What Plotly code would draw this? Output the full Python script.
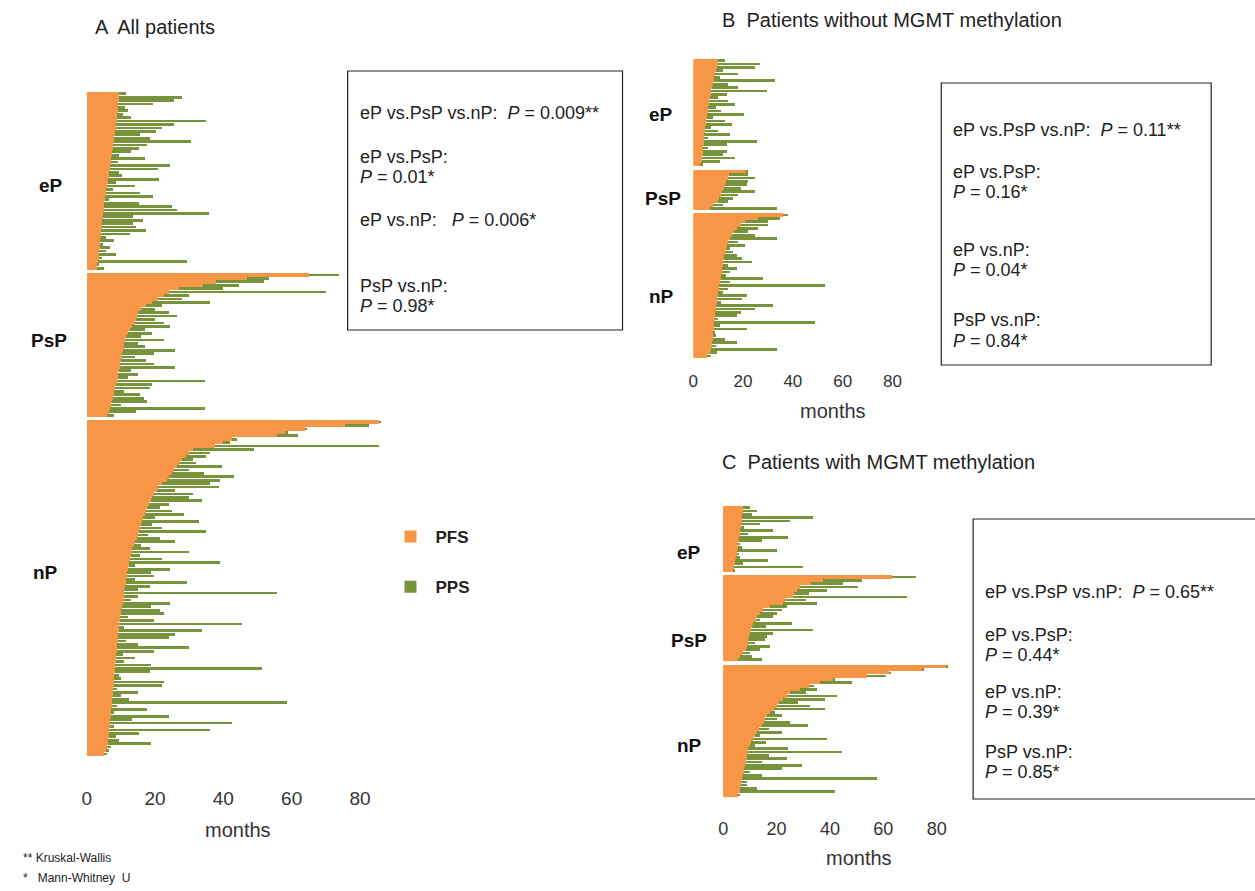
import plotly.graph_objects as go

W, H = 1255, 891
ORANGE = '#F79646'
GREEN = '#77933C'
FONT = 'Liberation Sans, Arial, sans-serif'

group_names = ['eP', 'PsP', 'nP']
x_ticks = [0, 20, 40, 60, 80]

# ---------- Panel A: all patients (months) ----------
a_ep_pfs = [9.6, 9.5, 9.4, 9.3, 9.3, 9.1, 9.0, 8.9, 8.8, 8.6, 8.5, 8.4, 8.2, 8.1, 8.0, 7.8, 7.7, 7.5, 7.4, 7.2,
            7.1, 6.9, 6.8, 6.6, 6.4, 6.3, 6.1, 6.0, 5.8, 5.7, 5.5, 5.4, 5.2, 5.1, 5.0, 4.9, 4.7, 4.6, 4.5, 4.4,
            4.3, 4.2, 4.1, 4.0, 3.9, 3.8, 3.7, 3.6, 3.5, 3.4, 3.2, 3.0]
a_ep_os = [11.4, 28, 25.6, 19.3, 11.3, 12.1, 10.5, 12.9, 34.8, 25.6, 22, 20.4, 15.7, 18.6, 30.5, 17.8, 15.2, 13,
           9.4, 17.2, 9.1, 24.4, 20.8, 9.6, 10.4, 21.3, 8.6, 14, 7.8, 15.7, 19.5, 6.4, 15.2, 25.1, 26.5, 35.9,
           13.7, 16.6, 13.5, 14.4, 17.3, 12.7, 5.6, 8, 4.9, 6.8, 5.7, 8.6, 4.5, 29.4, 3.7, 5]
a_psp_pfs = [65, 47, 38, 34, 27, 24, 22.7, 21, 19, 17.5, 16, 15, 14.8, 14.4, 14, 13.2, 12.6, 12, 11.6, 11.3, 11,
             10.8, 10.6, 10.4, 10.2, 10, 9.9, 9.7, 9.5, 9.3, 9.1, 8.9, 8.6, 8.4, 8.1, 7.9, 7.7, 7.5, 7.2, 6.9,
             6.5, 6.0]
a_psp_os = [74, 53.4, 52, 44.6, 40, 70, 30, 28, 36, 22, 20, 24, 26.5, 20, 22.7, 24.5, 17, 19, 16, 22.7, 15, 17,
            26, 19.8, 14, 17.3, 19.8, 26, 13, 15, 12, 34.7, 19, 18.4, 11, 15.7, 16.8, 17.8, 10, 34.7, 14.3, 8]
a_np_pfs = [85.7, 75.5, 64, 58, 55.7, 42.6, 40, 37.7, 31, 30, 29, 28, 27, 26.5, 25.5, 25, 24, 23.6, 22, 21, 20.5,
            19.8, 19.2, 18.8, 18.3, 17.8, 17.4, 17, 16.6, 16.3, 16, 15.7, 15.4, 15, 14.6, 14.2, 13.8, 13.4, 13.2,
            13, 12.7, 12.5, 12.3, 12, 11.9, 11.8, 11.6, 11.4, 11.2, 11, 10.9, 10.8, 10.6, 10.5, 10.3, 10.1, 10,
            9.9, 9.8, 9.6, 9.5, 9.4, 9.3, 9.2, 9.1, 9, 8.9, 8.8, 8.7, 8.6, 8.5, 8.4, 8.3, 8.2, 8.1, 8.1, 8, 7.9,
            7.8, 7.7, 7.6, 7.5, 7.4, 7.3, 7.2, 7.1, 7, 6.9, 6.8, 6.7, 6.6, 6.5, 6.4, 6.3, 6.1, 5.9, 5.6, 5.2]
a_np_os = [86, 82.5, 64.5, 59, 62, 44, 42, 85.7, 49, 36, 35, 31, 32, 39.7, 30, 34.4, 43, 39, 36, 38.7, 26, 31,
           30, 33.8, 24, 21.5, 25, 28.5, 20, 33, 19, 22, 35, 18, 21.5, 26, 16, 18.4, 30, 15.7, 22, 39, 14, 24.5,
           18.7, 19.8, 14, 29.5, 18.4, 15, 55.7, 14.9, 13, 24.5, 18.7, 21.5, 22.7, 12, 19.8, 45.5, 11, 33.8, 26,
           24, 11.4, 14.9, 30, 19.8, 10.5, 14, 11, 18.7, 51.3, 18.4, 9.5, 10, 22.7, 22, 9, 14.9, 10, 12.5, 58.6,
           9, 17.8, 8, 24, 13.4, 42.6, 8, 36, 15.4, 8.5, 9.6, 18.7, 7, 6.6, 6]

# ---------- Panel B: without MGMT methylation ----------
b_ep_pfs = [10, 9.8, 9.5, 9.2, 8.8, 8.5, 8.3, 8, 7.6, 7.3, 7, 6.8, 6.5, 6.2, 6, 5.8, 5.6, 5.4, 5.2, 5, 4.9, 4.7,
            4.5, 4.4, 4.3, 4.2, 4.1, 4, 3.9, 3.7, 3.5, 3.2]
b_ep_os = [12.8, 26.8, 24.8, 12, 18, 10.8, 33, 14, 18, 29.6, 13.6, 10, 14, 16.8, 9, 11, 20.4, 8, 12.8, 15.6, 7,
           10, 14.8, 6, 25.6, 13.6, 6, 13.6, 12, 16.8, 10.8, 4]
b_psp_pfs = [21.6, 14.5, 13.8, 13, 12.8, 12.2, 11.6, 11, 10.5, 10, 8, 6.8]
b_psp_os = [22, 22, 24.8, 22, 21.6, 19, 24.8, 18, 16, 14, 12, 33.6]
b_np_pfs = [36, 26, 20.8, 19, 17.6, 16.4, 15.6, 14.8, 14, 13.6, 13.2, 12.8, 12.4, 12.2, 12, 11.8, 11.6, 11.4,
            11.2, 11, 10.8, 10.4, 10.2, 10, 9.8, 9.6, 9.4, 9.2, 9, 8.9, 8.8, 8.6, 8.4, 8.3, 8.2, 8.1, 8, 7.8,
            7.6, 7.4, 7.2, 6.8, 5.6]
b_np_os = [38, 35, 30, 30, 26, 22, 25, 33.6, 18, 20.8, 14.8, 16, 17.6, 19.6, 23.6, 14, 17.6, 14.8, 13, 28, 14.8,
           52.8, 14, 12, 21.6, 19.6, 11, 32, 24.8, 19.2, 17.6, 10, 48.8, 10.8, 21.6, 8.8, 9, 12.8, 17.6, 9,
           33.6, 9.6, 7]

# ---------- Panel C: with MGMT methylation ----------
c_ep_pfs = [7.5, 7.4, 7.2, 7.1, 7, 6.8, 6.7, 6.5, 6.3, 6.1, 5.9, 5.7, 5.5, 5.3, 5.1, 4.9, 4.6, 4.3, 4, 3.7]
c_ep_os = [10, 12.7, 11, 33.6, 25, 13.8, 8, 18.7, 9.3, 24.3, 14.6, 6.5, 7, 20, 6, 6.5, 16.8, 7.5, 29.8, 4.5]
c_psp_pfs = [63.4, 37.3, 33, 28.7, 27.6, 26.5, 26, 23, 22.4, 17.5, 15, 13.8, 12.7, 12.2, 11.2, 10.8, 10.5, 10.2,
             9.7, 9.5, 9.2, 9, 8.5, 7.5, 6.3, 5.6]
c_psp_os = [72.4, 51.9, 44.8, 50.4, 38.8, 32, 68.7, 31, 35, 23.9, 22, 20, 18.7, 13.8, 25.7, 16, 33.6, 18.7, 16.4,
            15.7, 12, 17.5, 13.8, 10, 10.8, 14.6]
c_np_pfs = [83.6, 74.6, 62.3, 54, 41, 36.2, 32, 28.7, 25, 23.9, 22.5, 21, 20, 19, 17.5, 16.4, 15.8, 15.2, 14.6,
            13.5, 12.7, 12, 11.2, 10.5, 10, 9.3, 9.2, 9.1, 9, 8.6, 8.2, 8, 7.8, 7.5, 7, 6.8, 6.6, 6.4, 6.2, 5.6]
c_np_os = [84, 75, 63, 61.2, 42, 48.1, 34, 35, 31, 42.5, 38, 28, 32.5, 38, 19.5, 22, 20, 25, 31.7, 17, 22, 14,
           38.8, 16, 12, 24.3, 44.4, 17, 23.9, 14.6, 29.5, 22, 10, 14.6, 57.5, 9, 9, 12.7, 41.8, 6.5]

p_texts_a = ['eP vs.PsP vs.nP:  <i>P</i> = 0.009**', 'eP vs.PsP:', '<i>P</i> = 0.01*',
             'eP vs.nP:   <i>P</i> = 0.006*', 'PsP vs.nP:', '<i>P</i> = 0.98*']
p_texts_b = ['eP vs.PsP vs.nP:  <i>P</i> = 0.11**', 'eP vs.PsP:', '<i>P</i> = 0.16*', 'eP vs.nP:',
             '<i>P</i> = 0.04*', 'PsP vs.nP:', '<i>P</i> = 0.84*']
p_texts_c = ['eP vs.PsP vs.nP:  <i>P</i> = 0.65**', 'eP vs.PsP:', '<i>P</i> = 0.44*', 'eP vs.nP:',
             '<i>P</i> = 0.39*', 'PsP vs.nP:', '<i>P</i> = 0.85*']


def px(x):
    return x / W


def py(y):
    return 1 - y / H


panels = [
    dict(key='', pfs=[a_ep_pfs, a_psp_pfs, a_np_pfs], os=[a_ep_os, a_psp_os, a_np_os],
         x0=82, scale=3.43, xmax=88, top=92, bottom=759, standoff=26, tick=19, legend=True),
    dict(key='2', pfs=[b_ep_pfs, b_psp_pfs, b_np_pfs], os=[b_ep_os, b_psp_os, b_np_os],
         x0=691, scale=2.5, xmax=84, top=59, bottom=361, standoff=8, tick=17, legend=False),
    dict(key='3', pfs=[c_ep_pfs, c_psp_pfs, c_np_pfs], os=[c_ep_os, c_psp_os, c_np_os],
         x0=721, scale=2.68, xmax=86, top=506, bottom=800, standoff=16, tick=18, legend=False),
]

fig = go.Figure()
layout_axes = {}
for p in panels:
    ys, pfs_all, pps_all = [], [], []
    pos = 0
    for g_pfs, g_os in zip(p['pfs'], p['os']):
        for i, (a, b) in enumerate(zip(g_pfs, g_os)):
            ys.append(pos + i)
            pfs_all.append(a)
            pps_all.append(b - a)
        pos += len(g_pfs) + 1
    n = pos - 1
    xa = 'x' + p['key']
    ya = 'y' + p['key']
    fig.add_trace(go.Bar(x=pfs_all, y=ys, orientation='h', width=1.0, name='<b>PFS</b>',
                         marker=dict(color=ORANGE, line=dict(width=0)), xaxis=xa, yaxis=ya,
                         showlegend=p['legend'], legendgroup='pfs', hoverinfo='skip'))
    fig.add_trace(go.Bar(x=pps_all, y=ys, orientation='h', width=0.8, name='<b>PPS</b>',
                         marker=dict(color=GREEN, line=dict(width=0)), xaxis=xa, yaxis=ya,
                         showlegend=p['legend'], legendgroup='pps', hoverinfo='skip'))
    xr = p['x0'] + p['xmax'] * p['scale']
    layout_axes['xaxis' + p['key']] = dict(
        domain=[px(p['x0']), px(xr)], range=[0, p['xmax']], anchor=ya,
        tickvals=x_ticks, showgrid=False, zeroline=False, showline=False, ticks='',
        tickfont=dict(family=FONT, size=p['tick'], color='#333333'), ticklabelstandoff=p['standoff'])
    layout_axes['yaxis' + p['key']] = dict(
        domain=[py(p['bottom']), py(p['top'])], range=[n + 0.5, -0.5], anchor=xa,
        visible=False, showgrid=False, zeroline=False)

annotations = []


def text(x, y, s, size=16, bold=False, color='#222222', anchor='left'):
    annotations.append(dict(xref='paper', yref='paper', x=px(x), y=py(y), text=('<b>%s</b>' % s) if bold else s,
                            showarrow=False, xanchor=anchor, yanchor='middle',
                            font=dict(family=FONT, size=size, color=color)))


# titles
text(88, 27, 'A  All patients', 20)
text(718, 20, 'B  Patients without MGMT methylation', 20)
text(718, 462, 'C  Patients with MGMT methylation', 20)

# group labels
for (x, y, s) in [(46, 186, 'eP'), (44, 341, 'PsP'), (41, 572, 'nP'),
                  (659, 115, 'eP'), (661, 198, 'PsP'), (659, 296, 'nP'),
                  (687, 552, 'eP'), (687, 640, 'PsP'), (687, 745, 'nP')]:
    text(x, y, s, 19, bold=True, color='#111111', anchor='center')

# axis titles
text(234, 830, 'months', 20, anchor='center', color='#333333')
text(831, 411, 'months', 20, anchor='center', color='#333333')
text(857, 858, 'months', 20, anchor='center', color='#333333')

# p-value boxes
for lines, ys_, x in [(p_texts_a, [113, 157, 177, 220, 286, 306], 354),
                      (p_texts_b, [130, 172, 192, 250, 270, 320, 341], 950),
                      (p_texts_c, [592, 635, 655, 692, 712, 752, 772], 982)]:
    for s, y in zip(lines, ys_):
        text(x, y, s, 18)

# footnotes
text(16, 858, '** Kruskal-Wallis', 12)
text(16, 878, '*   Mann-Whitney  U', 12)

shapes = []
for (x0, y0, x1, y1) in [(344, 71, 620, 330), (940, 83, 1211, 365), (972, 519, 1262, 799)]:
    shapes.append(dict(type='rect', xref='paper', yref='paper', x0=px(x0), y0=py(y0), x1=px(x1), y1=py(y1),
                       line=dict(color='#222222', width=1.2), fillcolor='rgba(0,0,0,0)'))

fig.update_layout(
    width=W, height=H, margin=dict(l=0, r=0, t=0, b=0),
    paper_bgcolor='white', plot_bgcolor='white', barmode='stack',
    font=dict(family=FONT, color='#222222'),
    showlegend=True,
    legend=dict(x=px(382), y=py(519), xanchor='left', yanchor='top', tracegroupgap=25,
                font=dict(family=FONT, size=17, color='#222222'), bgcolor='rgba(0,0,0,0)', itemwidth=40),
    annotations=annotations, shapes=shapes,
    **layout_axes,
)

fig.write_html('out.html', config={'displayModeBar': False},
               post_script="document.body.style.margin='0px';document.body.style.overflow='hidden';")
